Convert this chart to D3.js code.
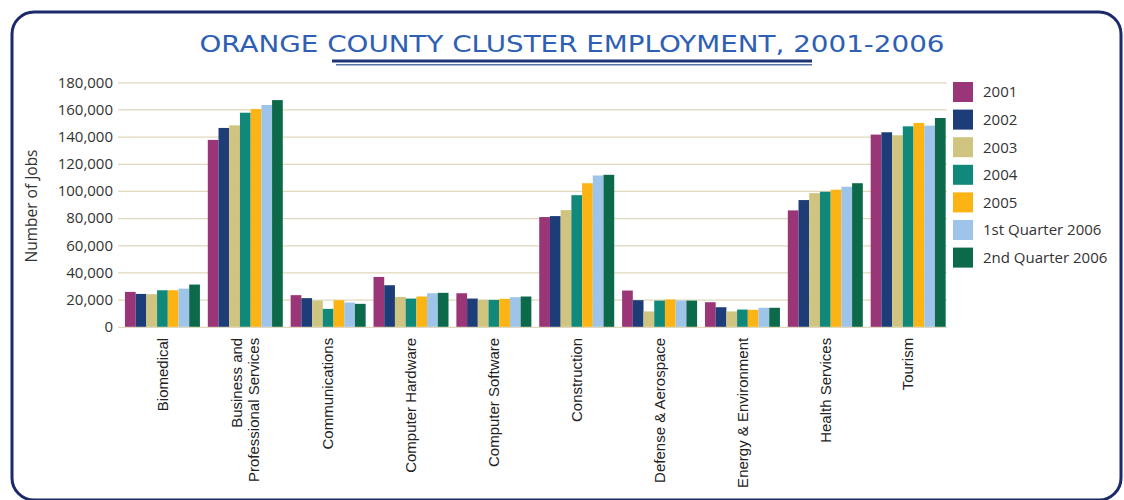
<!DOCTYPE html>
<html>
<head>
<meta charset="utf-8">
<script src="https://cdn.jsdelivr.net/npm/d3@7"></script>
<style>
  html, body { margin: 0; padding: 0; background: #ffffff; }
  svg { display: block; }
</style>
</head>
<body>
<svg id="chart" width="1124" height="500"></svg>
<script>
// Employment clusters shown along the x axis (lines split where the label wraps)
const categories = [
  "Biomedical",
  "Business and|Professional Services",
  "Communications",
  "Computer Hardware",
  "Computer Software",
  "Construction",
  "Defense & Aerospace",
  "Energy & Environment",
  "Health Services",
  "Tourism"
];

// Reporting periods, one bar per period in each cluster
const periods = ["2001", "2002", "2003", "2004", "2005", "1st Quarter 2006", "2nd Quarter 2006"];

// Number of jobs per period, in category order
const jobs2001 = [25700, 137600, 23300, 36700, 24700, 80800, 26700, 18100, 85700, 141500];
const jobs2002 = [24200, 146400, 21100, 30600, 20800, 81500, 19600, 14400, 93300, 143200];
const jobs2003 = [24000, 148300, 19300, 22000, 19800, 85900, 11300, 11300, 98400, 141000];
const jobs2004 = [26900, 157600, 13200, 20800, 19800, 96900, 19300, 12700, 99400, 147600];
const jobs2005 = [26900, 160300, 19600, 22300, 20600, 105700, 20100, 12500, 100900, 150100];
const jobsQ1_2006 = [28100, 163300, 17900, 24700, 21800, 111400, 19300, 14000, 103100, 148100];
const jobsQ2_2006 = [31100, 166900, 16900, 25000, 22300, 111900, 19300, 14000, 105700, 153700];

// Y axis ticks
const yTicks = [0, 20000, 40000, 60000, 80000, 100000, 120000, 140000, 160000, 180000];

const seriesValues = [jobs2001, jobs2002, jobs2003, jobs2004, jobs2005, jobsQ1_2006, jobsQ2_2006];
const colors = ["#9a3577", "#1d3d78", "#cfc480", "#11897a", "#fcb415", "#9fc4e9", "#0c6a4b"];

const rows = categories.map((c, i) => ({
  category: c,
  values: periods.map((p, j) => ({ period: p, value: seriesValues[j][i] }))
}));

const svg = d3.select("#chart");

// Rounded frame
svg.append("rect")
  .attr("x", 12).attr("y", 12)
  .attr("width", 1109).attr("height", 488)
  .attr("rx", 22).attr("ry", 22)
  .attr("fill", "#ffffff")
  .attr("stroke", "#1b2a6a")
  .attr("stroke-width", 3);

// Title with double underline
svg.append("text")
  .attr("x", 572).attr("y", 52)
  .attr("text-anchor", "middle")
  .attr("font-family", "DejaVu Sans")
  .attr("font-size", 23)
  .attr("fill", "#2e5fb5")
  .attr("textLength", 745)
  .attr("lengthAdjust", "spacingAndGlyphs")
  .text("ORANGE COUNTY CLUSTER EMPLOYMENT, 2001-2006");

svg.append("line")
  .attr("x1", 332).attr("x2", 812).attr("y1", 61).attr("y2", 61)
  .attr("stroke", "#1f3474").attr("stroke-width", 3);
svg.append("line")
  .attr("x1", 336).attr("x2", 812).attr("y1", 64.8).attr("y2", 64.8)
  .attr("stroke", "#5a72a8").attr("stroke-width", 1.4);

// Scales
const x0 = d3.scaleBand()
  .domain(categories)
  .range([121, 949.6])
  .paddingInner(0.095)
  .paddingOuter(0.0475);

const x1 = d3.scaleBand()
  .domain(periods)
  .range([0, x0.bandwidth()])
  .padding(0);

const y = d3.scaleLinear()
  .domain([0, 180000])
  .range([326.8, 82.3]);

// Gridlines and y tick labels
const yAxis = d3.axisLeft(y)
  .tickValues(yTicks)
  .tickSize(-829)
  .tickPadding(5)
  .tickFormat(d3.format(","));

const yg = svg.append("g")
  .attr("transform", "translate(118,0)")
  .call(yAxis);
yg.select(".domain").remove();
yg.selectAll(".tick line")
  .attr("stroke", "#e0d8bd")
  .attr("stroke-width", 1.2);
yg.selectAll(".tick text")
  .attr("font-family", "Open Sans")
  .attr("font-size", 15)
  .attr("fill", "#333333");

// Y axis title
svg.append("text")
  .attr("transform", "translate(37,206) rotate(-90)")
  .attr("text-anchor", "middle")
  .attr("font-family", "Open Sans")
  .attr("font-size", 15.5)
  .attr("fill", "#333333")
  .text("Number of Jobs");

// Bars
const groups = svg.append("g")
  .selectAll("g")
  .data(rows)
  .join("g")
  .attr("transform", d => `translate(${x0(d.category)},0)`);

groups.selectAll("rect")
  .data(d => d.values)
  .join("rect")
  .attr("x", d => x1(d.period))
  .attr("y", d => y(d.value))
  .attr("width", x1.bandwidth())
  .attr("height", d => y(0) - y(d.value))
  .attr("fill", (d, i) => colors[i]);

// Category labels, rotated
const xAxis = d3.axisBottom(x0).tickSize(0).tickFormat("");
const xg = svg.append("g")
  .attr("transform", `translate(0,${y(0)})`)
  .call(xAxis);
xg.select(".domain").remove();

xg.selectAll(".tick").each(function (d) {
  const lines = d.split("|");
  const lh = 17;
  const t = d3.select(this).append("text")
    .attr("transform", "translate(0,11) rotate(-90)")
    .attr("text-anchor", "end")
    .attr("font-family", "Liberation Sans")
    .attr("font-size", 15)
    .attr("fill", "#222222");
  lines.forEach((line, k) => {
    const off = (k - (lines.length - 1) / 2) * lh;
    t.append("tspan")
      .attr("x", 0)
      .attr("y", off)
      .attr("dy", "0.35em")
      .text(line);
  });
});

// Legend
const legend = svg.append("g").attr("transform", "translate(953,82)");
const items = legend.selectAll("g")
  .data(periods)
  .join("g")
  .attr("transform", (d, i) => `translate(0,${i * 27.6})`);
items.append("rect")
  .attr("width", 20).attr("height", 20)
  .attr("fill", (d, i) => colors[i]);
items.append("text")
  .attr("x", 30).attr("y", 10)
  .attr("dy", "0.36em")
  .attr("font-family", "Open Sans")
  .attr("font-size", 15)
  .attr("fill", "#333333")
  .text(d => d);
</script>
</body>
</html>
